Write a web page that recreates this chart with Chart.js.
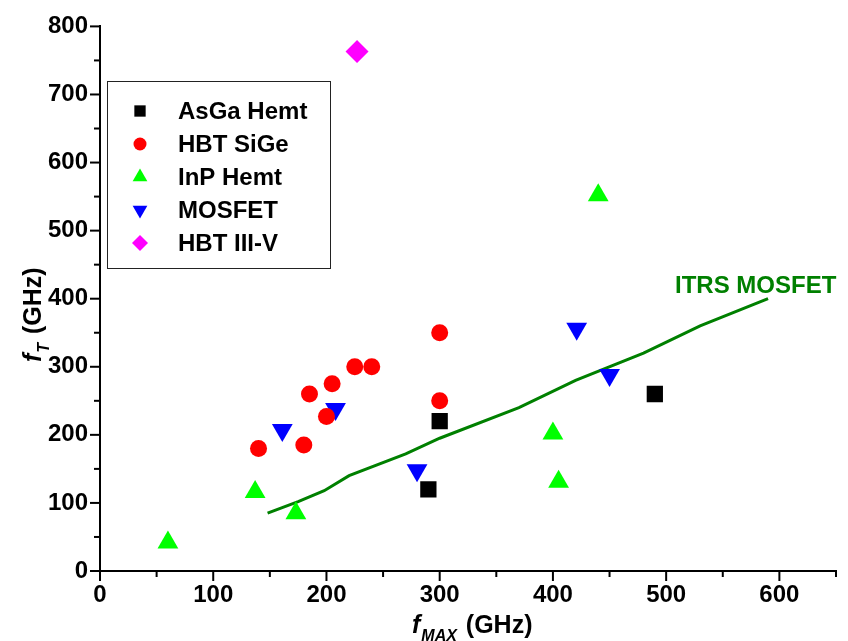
<!DOCTYPE html>
<html>
<head>
<meta charset="utf-8">
<script src="https://cdn.jsdelivr.net/npm/chart.js@4/dist/chart.umd.min.js"></script>
<style>
  html, body { margin: 0; padding: 0; background: #fff; }
  canvas { display: block; }
</style>
</head>
<body>
<canvas id="chart" width="848" height="641"></canvas>
<script>
// data: [fmax, fT] in GHz
const asgaHemt = [[290, 120], [300, 220], [490, 260]];
const hbtSiGe = [[140, 180], [180, 185], [185, 260], [200, 227], [205, 275], [225, 300], [240, 300], [300, 350], [300, 250]];
const inpHemt = [[60, 42], [137, 116], [173, 85], [400, 202], [405, 131], [440, 552]];
const mosfet = [[161, 207], [208, 238], [280, 148], [421, 356], [450, 288]];
const hbtIIIV = [[227, 763]];
const itrsMosfet = [[148, 85], [175, 102], [198, 118], [220, 140], [270, 172], [300, 195], [370, 240], [420, 280], [480, 320], [530, 360], [590, 400]];

const xTicks = [0, 100, 200, 300, 400, 500, 600];
const yTicks = [0, 100, 200, 300, 400, 500, 600, 700, 800];

const FONT = "'Liberation Sans', Arial, sans-serif";
const toPts = arr => arr.map(p => ({ x: p[0], y: p[1] }));

const series = [
    { label: 'AsGa Hemt', data: asgaHemt, color: '#000000', style: 'rect', r: 11.5, lr: 8, rot: 0 },
    { label: 'HBT SiGe', data: hbtSiGe, color: '#ff0000', style: 'circle', r: 8.5, lr: 6.5, rot: 0 },
    { label: 'InP Hemt', data: inpHemt, color: '#00ff00', style: 'triangle', r: 12, lr: 8.5, rot: 0 },
    { label: 'MOSFET', data: mosfet, color: '#0000ff', style: 'triangle', r: 12, lr: 8.5, rot: 180 },
    { label: 'HBT III-V', data: hbtIIIV, color: '#ff00ff', style: 'rectRot', r: 11.5, lr: 8, rot: 0 }
];

const datasets = series.map(s => ({
    label: s.label,
    data: toPts(s.data),
    pointStyle: s.style,
    pointRadius: s.r,
    pointRotation: s.rot,
    pointBackgroundColor: s.color,
    pointBorderWidth: 0,
    showLine: false
}));
datasets.push({
    label: 'ITRS MOSFET',
    data: toPts(itrsMosfet),
    showLine: true,
    borderColor: '#008000',
    borderWidth: 3,
    pointRadius: 0,
    tension: 0
});

// ticks, axis titles, legend box and line label
const decor = {
    id: 'decor',
    afterDraw(chart) {
        const ctx = chart.ctx;
        const xs = chart.scales.x, ys = chart.scales.y;
        const area = chart.chartArea;
        ctx.save();
        ctx.strokeStyle = '#000';
        ctx.lineWidth = 2;
        xs.ticks.forEach(t => {
            const px = xs.getPixelForValue(t.value);
            const len = xTicks.includes(t.value) ? 10 : 6;
            ctx.beginPath();
            ctx.moveTo(px, area.bottom);
            ctx.lineTo(px, area.bottom + len);
            ctx.stroke();
        });
        ys.ticks.forEach(t => {
            const py = ys.getPixelForValue(t.value);
            const len = yTicks.includes(t.value) ? 10 : 6;
            ctx.beginPath();
            ctx.moveTo(area.left, py);
            ctx.lineTo(area.left - len, py);
            ctx.stroke();
        });

        // x title: f_MAX (GHz)
        ctx.fillStyle = '#000';
        ctx.textBaseline = 'alphabetic';
        ctx.textAlign = 'left';
        let x = 412, y = 633;
        ctx.font = 'italic bold 25px ' + FONT;
        ctx.fillText('f', x, y);
        x += ctx.measureText('f').width + 1;
        ctx.font = 'italic bold 16px ' + FONT;
        ctx.fillText('MAX', x, y + 8);
        x += ctx.measureText('MAX').width + 2;
        ctx.font = 'bold 25px ' + FONT;
        ctx.fillText(' (GHz)', x, y);

        // y title: f_T (GHz)
        ctx.save();
        ctx.translate(41, 362);
        ctx.rotate(-Math.PI / 2);
        x = 0;
        ctx.font = 'italic bold 25px ' + FONT;
        ctx.fillText('f', x, 0);
        x += ctx.measureText('f').width + 1;
        ctx.font = 'italic bold 16px ' + FONT;
        ctx.fillText('T', x, 8);
        x += ctx.measureText('T').width + 2;
        ctx.font = 'bold 25px ' + FONT;
        ctx.fillText(' (GHz)', x, 0);
        ctx.restore();

        // legend
        ctx.lineWidth = 1;
        ctx.strokeStyle = '#222';
        ctx.strokeRect(107.5, 81.5, 223, 187);
        ctx.font = 'bold 24px ' + FONT;
        ctx.textBaseline = 'middle';
        series.forEach((s, i) => {
            const ly = 111 + i * 33;
            ctx.fillStyle = s.color;
            Chart.helpers.drawPoint(ctx, {
                pointStyle: s.style, radius: s.lr, rotation: s.rot, borderWidth: 0
            }, 140, ly);
            ctx.fillStyle = '#000';
            ctx.fillText(s.label, 178, ly + 1);
        });

        // line label
        ctx.fillStyle = '#008000';
        ctx.textBaseline = 'alphabetic';
        ctx.fillText('ITRS MOSFET', 675, 293);
        ctx.restore();
    }
};

new Chart(document.getElementById('chart').getContext('2d'), {
    type: 'scatter',
    data: { datasets: datasets },
    options: {
        responsive: false,
        animation: false,
        layout: { padding: { left: 0, top: 24, right: 9, bottom: 0 } },
        plugins: { legend: { display: false }, tooltip: { enabled: false } },
        scales: {
            x: {
                type: 'linear',
                min: 0,
                max: 650,
                grid: { display: false, drawTicks: false },
                border: { display: true, color: '#000', width: 2 },
                ticks: {
                    stepSize: 50,
                    padding: 10,
                    maxRotation: 0,
                    autoSkip: false,
                    color: '#000',
                    font: { family: FONT, size: 24, weight: 'bold' },
                    callback: v => xTicks.includes(v) ? String(v) : ''
                },
                afterFit: s => { s.height = 70; }
            },
            y: {
                type: 'linear',
                min: 0,
                max: 800,
                grid: { display: false, drawTicks: false },
                border: { display: true, color: '#000', width: 2 },
                ticks: {
                    stepSize: 50,
                    padding: 12,
                    autoSkip: false,
                    color: '#000',
                    font: { family: FONT, size: 24, weight: 'bold' },
                    callback: v => yTicks.includes(v) ? String(v) : ''
                },
                afterFit: s => { s.width = 100; }
            }
        }
    },
    plugins: [decor]
});
</script>
</body>
</html>
